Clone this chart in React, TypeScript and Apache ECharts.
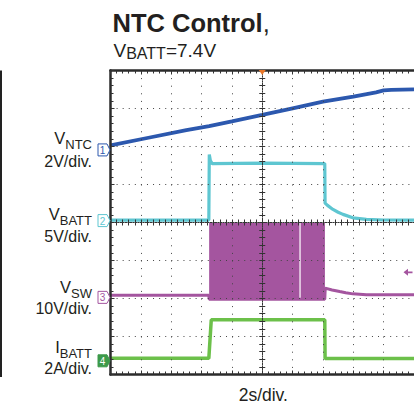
import React, { useEffect, useRef } from 'react';
import * as echarts from 'echarts';

const FONT = '"Liberation Sans", Arial, Helvetica, sans-serif';

// ---- axes: time relative to trigger (2 s/div, 10 div) and screen divisions (8 div)
const timeMin = -10;
const timeMax = 10;
const timePerDiv = 2;
const divMin = -4;
const divMax = 4;

// ---- channels
const channelColors = ['#2c58ae', '#5ec6d1', '#a4559f', '#6cc04a'];
const channelScales = [2, 5, 10, 2]; // V/div, V/div, V/div, A/div
const channelGround = [1.91, 0.05, -1.97, -3.64]; // ground marker, divisions from centre
const channelMarkers = ['1', '2', '3', '4'];

// CH1 VNTC (V)
const vntcTime = [-10, -7.5, -5, -3.5, -2, 0, 2, 4, 6, 7.5, 8, 8.5, 10];
const vntcValue = [0.24, 0.64, 1.04, 1.25, 1.5, 1.84, 2.19, 2.54, 2.81, 3.03, 3.13, 3.16, 3.19];

// CH2 VBATT (V)
const vbattTime = [-10, -3.52, -3.49, -3.42, -3.3, 0, 4.12, 4.14, 4.3, 4.66, 5.0, 5.32, 5.97, 6.86, 8, 10];
const vbattValue = [0.07, 0.07, 8.7, 7.9, 7.5, 7.55, 7.5, 2.3, 2.0, 1.47, 1.1, 0.82, 0.37, 0.16, 0.08, 0.07];

// CH3 VSW (V) : idle trace, plus switching burst envelope
const vswTime = [-10, -3.52, -3.5, 4.12, 4.15, 4.6, 5.1, 5.5, 5.97, 6.86, 10];
const vswValue = [0.55, 0.55, -0.5, -0.5, 2.42, 1.95, 1.53, 1.2, 0.92, 0.66, 0.66];
const vswBurstTime = [-3.5, 2.45, 2.53, 4.13]; // start, gap start, gap end, end
const vswBurstLevel = [-0.6, 19.6]; // low, high
const vswTriggerLevel = 6.6;

// CH4 IBATT (A)
const ibattTime = [-10, -3.52, -3.36, 0, 4.12, 4.14, 10];
const ibattValue = [0.13, 0.13, 2.16, 2.16, 2.16, 0.12, 0.12];

// ---- texts
const titleText = 'NTC Control';
const channelLabelMain = ['V', 'V', 'V', 'I'];
const channelLabelSub = ['NTC', 'BATT', 'SW', 'BATT'];
const channelLabelUnit = ['2V/div.', '5V/div.', '10V/div.', '2A/div.'];
const timeLabel = '2s/div.';

function toDiv(ch: number, v: number) {
  return channelGround[ch] + v / channelScales[ch];
}
function points(ch: number, t: number[], v: number[]) {
  return t.map((tt, i) => [tt, toDiv(ch, v[i])]);
}

let ctx: CanvasRenderingContext2D | null = null;
function textWidth(text: string, size: number, weight = 'normal') {
  if (!ctx) ctx = document.createElement('canvas').getContext('2d');
  if (!ctx) return text.length * size * 0.6;
  ctx.font = `${weight} ${size}px ${FONT}`;
  return ctx.measureText(text).width;
}
// y of "middle" (central baseline) for a desired alphabetic baseline
function mid(baseline: number, size: number) {
  return baseline - 0.3465 * size;
}
const INK = '#231f20';
function txt(text: string, x: number, baseline: number, size: number, align: string, weight = 'normal') {
  return {
    type: 'text',
    x,
    y: mid(baseline, size),
    silent: true,
    style: { text, fontSize: size, fontWeight: weight, fontFamily: FONT, fill: INK, align, verticalAlign: 'middle' },
  };
}

function buildGraphics() {
  const g: any[] = [];
  // title
  const titleSize = 25.5;
  const titleX = 112.5;
  g.push(txt(titleText, titleX, 31.7, titleSize, 'left', 'bold'));
  g.push(txt(',', titleX + textWidth(titleText, titleSize, 'bold'), 31.7, titleSize, 'left'));
  // subtitle V_BATT=7.4V
  let sx = 113.5;
  g.push(txt('V', sx, 56.8, 19, 'left'));
  sx += textWidth('V', 19);
  g.push(txt('BATT', sx, 59.4, 16, 'left'));
  sx += textWidth('BATT', 16);
  g.push(txt('=7.4V', sx, 56.8, 19, 'left'));
  // channel labels (main letter, subscript, scale)
  const rightX = 92;
  const mainBase = [143.6, 220, 292.8, 352.8];
  const subBase = [148.8, 225.5, 297.8, 357.8];
  const unitBase = [166.6, 242.3, 314, 374];
  for (let i = 0; i < 4; i++) {
    const sw = textWidth(channelLabelSub[i], 13);
    g.push(txt(channelLabelSub[i], rightX, subBase[i], 13, 'right'));
    g.push(txt(channelLabelMain[i], rightX - sw, mainBase[i], 16.5, 'right'));
    g.push(txt(channelLabelUnit[i], rightX, unitBase[i], 16, 'right'));
  }
  // time base
  g.push(txt(timeLabel, 263.3, 400.7, 17.5, 'center'));
  // neighbouring panel edge on the left
  g.push({ type: 'rect', silent: true, shape: { x: 0, y: 70.5, width: 2, height: 306.5 }, style: { fill: '#222' } });
  return g;
}

const markerPath = 'path://M0,0 L9,0 L12,6 L9,12 L0,12 Z';

function groundMarker(ch: number) {
  const filled = ch === 3;
  const c = channelColors[ch];
  return {
    coord: [timeMin, channelGround[ch]],
    symbol: markerPath,
    symbolSize: [12, 12],
    symbolOffset: [-6.5, 0],
    itemStyle: { color: filled ? '#3d9a4a' : '#ffffff', borderColor: filled ? '#3d9a4a' : c, borderWidth: 1 },
    label: {
      show: true,
      formatter: channelMarkers[ch],
      color: filled ? '#ffffff' : c,
      fontSize: 10,
      fontFamily: FONT,
      offset: [-1.5, 0.5],
      position: 'inside',
    },
  };
}

export default function App() {
  const ref = useRef<HTMLDivElement>(null);
  useEffect(() => {
    if (!ref.current) return;
    const chart = echarts.init(ref.current, undefined, { renderer: 'svg' });

    const borderLine = { show: true, onZero: false, lineStyle: { color: '#2b2b2b', width: 2.5 } };
    const borderTick = { show: true, inside: true, length: 4, lineStyle: { color: '#333', width: 1 } };
    const minor = { show: true, splitNumber: 5, length: 3, lineStyle: { color: '#333', width: 1 } };
    const centreLine = { show: true, onZero: true, onZeroAxisIndex: 0, lineStyle: { color: '#333', width: 1, type: [1, 1.5] } };
    const noLabel = { show: false };
    const xBase = { type: 'value', min: timeMin, max: timeMax, interval: timePerDiv, axisLabel: noLabel, z: 3 };
    const yBase = { type: 'value', min: divMin, max: divMax, interval: 1, axisLabel: noLabel, z: 3 };

    const lineSeries = (ch: number, name: string, data: number[][], width: number, extra: any = {}) => ({
      type: 'line',
      name,
      data,
      symbol: 'none',
      showSymbol: false,
      clip: true,
      z: 2,
      emphasis: { disabled: true },
      lineStyle: { color: channelColors[ch], width },
      itemStyle: { color: channelColors[ch] },
      ...extra,
    });

    const burstLow = toDiv(2, vswBurstLevel[0]);
    const burstHigh = toDiv(2, vswBurstLevel[1]);

    chart.setOption({
      animation: false,
      backgroundColor: '#ffffff',
      grid: { left: 110.5, top: 70.5, width: 304, height: 304, show: false },
      xAxis: [
        { ...xBase, position: 'bottom', axisLine: borderLine, axisTick: borderTick, minorTick: minor,
          splitLine: { show: true, lineStyle: { color: '#444', width: 1, type: [1, 6.6] } } },
        { ...xBase, position: 'top', axisLine: borderLine, axisTick: borderTick, minorTick: minor, splitLine: { show: false } },
        { ...xBase, position: 'bottom', axisLine: centreLine, axisTick: { show: true, inside: true, length: 3, lineStyle: { color: '#333' } },
          minorTick: minor, splitLine: { show: false } },
        { ...xBase, position: 'bottom', axisLine: centreLine, axisTick: { show: true, inside: false, length: 3, lineStyle: { color: '#333' } },
          minorTick: minor, splitLine: { show: false } },
      ],
      yAxis: [
        { ...yBase, position: 'left', axisLine: borderLine, axisTick: borderTick, minorTick: minor,
          splitLine: { show: true, lineStyle: { color: '#444', width: 1, type: [1, 5.08] } } },
        { ...yBase, position: 'right', axisLine: { show: false, onZero: false }, axisTick: { show: false }, minorTick: { show: false }, splitLine: { show: false } },
        { ...yBase, position: 'left', axisLine: centreLine, axisTick: { show: true, inside: true, length: 3, lineStyle: { color: '#333' } },
          minorTick: minor, splitLine: { show: false } },
        { ...yBase, position: 'left', axisLine: centreLine, axisTick: { show: true, inside: false, length: 3, lineStyle: { color: '#333' } },
          minorTick: minor, splitLine: { show: false } },
      ],
      series: [
        lineSeries(2, 'VSW', points(2, vswTime, vswValue), 3, {
          markArea: {
            silent: true,
            label: { show: false },
            itemStyle: { color: channelColors[2], opacity: 1 },
            data: [
              [{ coord: [vswBurstTime[0], burstLow] }, { coord: [vswBurstTime[1], burstHigh] }],
              [{ coord: [vswBurstTime[2], burstLow] }, { coord: [vswBurstTime[3], burstHigh] }],
            ],
          },
          markPoint: {
            silent: true,
            data: [
              groundMarker(2),
              {
                coord: [timeMax, toDiv(2, vswTriggerLevel)],
                symbol: 'path://M0,4 L5,0 L5,3 L10,3 L10,5 L5,5 L5,8 Z',
                symbolSize: [9, 7],
                symbolOffset: [-6, 0],
                itemStyle: { color: channelColors[2] },
                label: { show: false },
              },
            ],
          },
        }),
        lineSeries(0, 'VNTC', points(0, vntcTime, vntcValue), 3.8, {
          markPoint: {
            silent: true,
            data: [
              groundMarker(0),
              {
                coord: [0, divMax],
                symbol: 'triangle',
                symbolRotate: 180,
                symbolSize: [7, 5],
                symbolOffset: [0, 2],
                itemStyle: { color: '#e8772a' },
                label: { show: false },
              },
            ],
          },
        }),
        lineSeries(1, 'VBATT', points(1, vbattTime, vbattValue), 3.2, {
          markPoint: { silent: true, data: [groundMarker(1)] },
        }),
        lineSeries(3, 'IBATT', points(3, ibattTime, ibattValue), 3.5, {
          markPoint: { silent: true, data: [groundMarker(3)] },
        }),
      ],
      graphic: buildGraphics(),
    });
    return () => chart.dispose();
  }, []);

  return (
    <div
      ref={ref}
      style={{ position: 'absolute', left: 0, top: 0, width: 414, height: 405, background: '#ffffff' }}
    />
  );
}
